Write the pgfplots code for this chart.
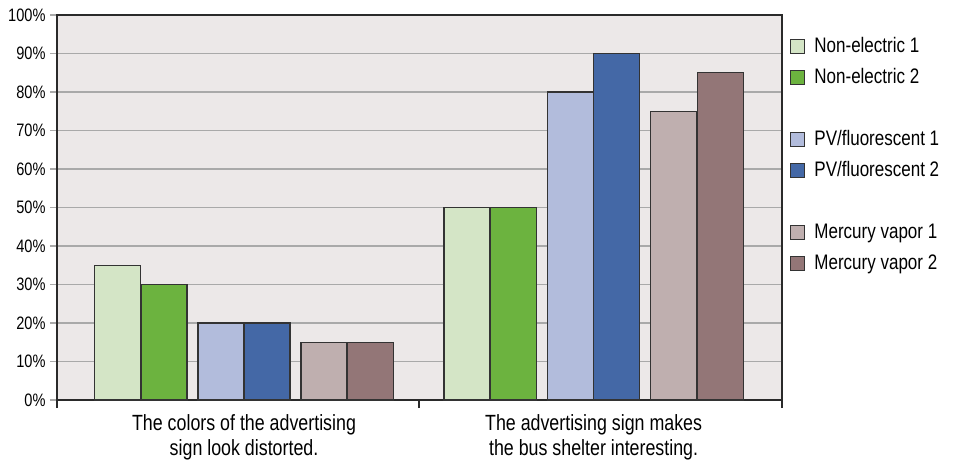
\documentclass[border=0pt]{standalone}
\usepackage{fontspec}
\setmainfont{Liberation Sans}[FakeStretch=0.81]
\usepackage{pgfplots}
\pgfplotsset{compat=1.18}
\definecolor{bgc}{HTML}{ECE8E8}
\definecolor{gridc}{HTML}{A9A9A9}
\definecolor{axc}{HTML}{2A2A2A}
\definecolor{barc}{HTML}{333333}
\definecolor{cA}{HTML}{D4E5C6}
\definecolor{cB}{HTML}{6CB33F}
\definecolor{cC}{HTML}{B2BCDC}
\definecolor{cD}{HTML}{4468A6}
\definecolor{cE}{HTML}{BFAFAF}
\definecolor{cF}{HTML}{937677}
\begin{document}
\begin{tikzpicture}
\useasboundingbox (-57bp,-64bp) rectangle (906bp,400bp);
\begin{axis}[
  scale only axis, width=725bp, height=385bp,
  xmin=-0.535, xmax=1.539, ymin=0, ymax=100,
  axis background/.style={fill=bgc},
  axis line style={draw=axc, line width=1.8bp},
  xtick pos=bottom, ytick pos=left,
  ytick={0,10,...,100},
  yticklabel={\pgfmathprintnumber{\tick}\%},
  yticklabel style={font=\fontsize{18bp}{20bp}\selectfont, xshift=-1bp},
  /pgf/number format/assume math mode=true,
  ymajorgrids, grid style={draw=gridc, line width=1.3bp},
  ytick style={draw=gridc, line width=1.3bp},
  tick align=outside, major tick length=7bp,
  xtick={0,1},
  xticklabels={{The colors of the advertising\\sign look distorted.},{The advertising sign makes\\the bus shelter interesting.}},
  xticklabel style={font=\fontsize{22bp}{25bp}\selectfont, align=center, yshift=-4bp},
  xtick style={draw=none},
  extra x ticks={-0.535,0.5,1.539},
  extra x tick labels={},
  extra x tick style={xtick style={draw=axc, line width=1.5bp}, major tick length=8bp, grid=none},
  legend style={draw=none, fill=none, at={(1,1)}, anchor=north west, xshift=8bp, yshift=-22bp,
    inner sep=0pt, row sep=13bp, column sep=0bp,
    font=\fontsize{21bp}{23bp}\selectfont,
    nodes={inner sep=0pt, text height=15bp, text depth=3bp}},
  legend cell align=left,
  legend image code/.code={\draw[#1, line width=1.2bp] (0bp,-7bp) rectangle (14bp,7bp);},
]
\addplot[ybar, bar width=0.1316, bar shift=-0.362, fill=cA, draw=barc, line width=1.2bp] coordinates {(0,35) (1,50)};
\addlegendentry{\hspace{9bp}Non-electric 1}
\addplot[ybar, bar width=0.1316, bar shift=-0.229, fill=cB, draw=barc, line width=1.2bp] coordinates {(0,30) (1,50)};
\addlegendentry{\hspace{9bp}Non-electric 2}
\addlegendimage{empty legend}\addlegendentry{}
\addplot[ybar, bar width=0.1316, bar shift=-0.0658, fill=cC, draw=barc, line width=1.2bp] coordinates {(0,20) (1,80)};
\addlegendentry{\hspace{9bp}PV/fluorescent 1}
\addplot[ybar, bar width=0.1316, bar shift=0.0658, fill=cD, draw=barc, line width=1.2bp] coordinates {(0,20) (1,90)};
\addlegendentry{\hspace{9bp}PV/fluorescent 2}
\addlegendimage{empty legend}\addlegendentry{}
\addplot[ybar, bar width=0.1316, bar shift=0.229, fill=cE, draw=barc, line width=1.2bp] coordinates {(0,15) (1,75)};
\addlegendentry{\hspace{9bp}Mercury vapor 1}
\addplot[ybar, bar width=0.1316, bar shift=0.362, fill=cF, draw=barc, line width=1.2bp] coordinates {(0,15) (1,85)};
\addlegendentry{\hspace{9bp}Mercury vapor 2}
\end{axis}
\end{tikzpicture}
\end{document}
